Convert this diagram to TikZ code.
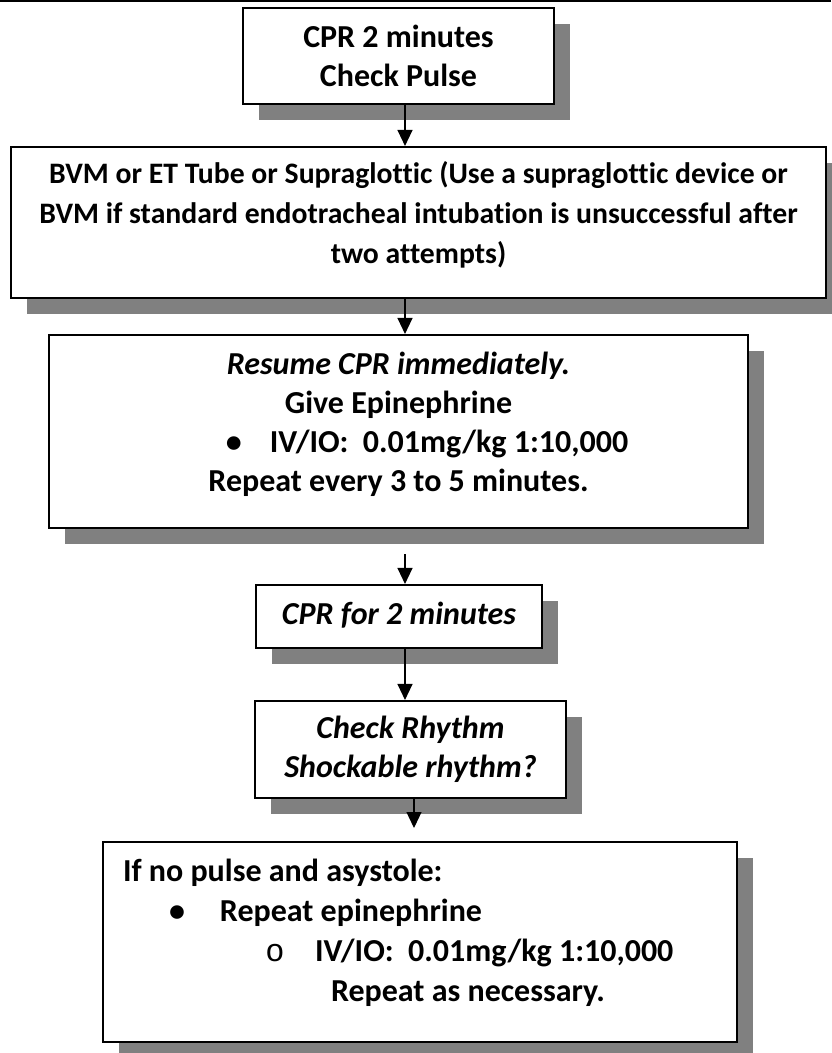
\documentclass[tikz,border=0pt]{standalone}
\usepackage{fontspec}
\setmainfont{Carlito}[Ligatures=NoCommon]
\newfontfamily\ringfont{Liberation Mono}
\usetikzlibrary{arrows.meta,shadows}

% extra depth below the last line, to lift the text in its box
\newcommand{\deep}[1]{\rule[-#1]{0pt}{0pt}}
% one line of the last box, set flush left at an indent
\newcommand{\flushline}[2]{\makebox[594pt][l]{\hspace*{#1}#2}}
% a list mark at a given indent, taking no room
\newcommand{\markat}[2]{\rlap{\hspace*{#1}\makebox[0pt]{#2}}}

\begin{document}
\begin{tikzpicture}[x=1pt,y=-1pt,
		box/.style={draw,line width=1.6pt,fill=white,inner sep=0pt,
			drop shadow={shadow xshift=16pt,shadow yshift=-16pt,
				fill=black!50,opacity=1},
			align=center,font=\fontsize{32}{39}\selectfont\bfseries},
		italicbox/.style={box,font=\fontsize{32}{39}\selectfont\bfseries\itshape},
		flow/.style={line width=1.2pt,-{Triangle[width=15pt,length=16pt]}}]
		
		\useasboundingbox (0,0) rectangle (831,1053);
		
		\draw[line width=2pt]
		(0,1) -- (831,1);
		
		\coordinate (mid) at (405,0);
		\coordinate (low) at (414,0);
		
		\node[box,minimum width=311.5pt,minimum height=96.5pt] (pulse)
		at (398.5,56)
		{CPR 2 minutes\\Check Pulse};
		
		\node[box,font=\fontsize{29.7}{40}\selectfont\bfseries,
		minimum width=815.5pt,minimum height=151.5pt] (airway)
		at (418.5,222.5)
		{BVM or ET Tube or Supraglottic (Use a supraglottic device or\\
			BVM if standard endotracheal intubation is unsuccessful after\\
			two attempts)\deep{20pt}};
		
		\node[box,minimum width=699.5pt,minimum height=193.5pt] (epi)
		at (398.5,431.5)
		{{\itshape Resume CPR immediately.}\\
			Give Epinephrine\\
			\hspace*{101pt}\makebox[0pt][r]{•\hspace*{28pt}}IV/IO:~~0.01mg/kg 1:10,000\\
			Repeat every 3 to 5 minutes.\deep{20pt}};
		
		\node[italicbox,minimum width=286.5pt,minimum height=63.5pt] (cycle)
		at (399,616.5)
		{CPR for 2 minutes\deep{7pt}};
		
		\node[italicbox,minimum width=311.5pt,minimum height=97.5pt] (rhythm)
		at (410.5,749.5)
		{Check Rhythm\\Shockable rhythm?};
		
		\node[box,font=\fontsize{32}{40}\selectfont\bfseries,
		minimum width=634.5pt,minimum height=200.5pt] (asystole)
		at (420,942)
		{\flushline{0pt}{If no pulse and asystole:}\\
			\flushline{0pt}{\markat{54pt}{•}\hspace*{97pt}Repeat epinephrine}\\
			\flushline{0pt}{\markat{152pt}{\ringfont\mdseries o}\hspace*{192pt}IV/IO:~~0.01mg/kg 1:10,000}\\
			\flushline{208pt}{Repeat as necessary.}\deep{24pt}};
		
		\coordinate (resume) at (405,554);
		\coordinate (stop) at (414,828);
		
		\draw[flow] (pulse.south -| mid) -- (airway.north -| mid);
		\draw[flow] (airway.south -| mid) -- (epi.north -| mid);
		\draw[flow] (resume) -- (cycle.north -| mid);
		\draw[flow] (cycle.south -| mid) -- (rhythm.north -| mid);
		\draw[flow] (rhythm.south -| low) -- (stop);
		
\end{tikzpicture}
\end{document}
